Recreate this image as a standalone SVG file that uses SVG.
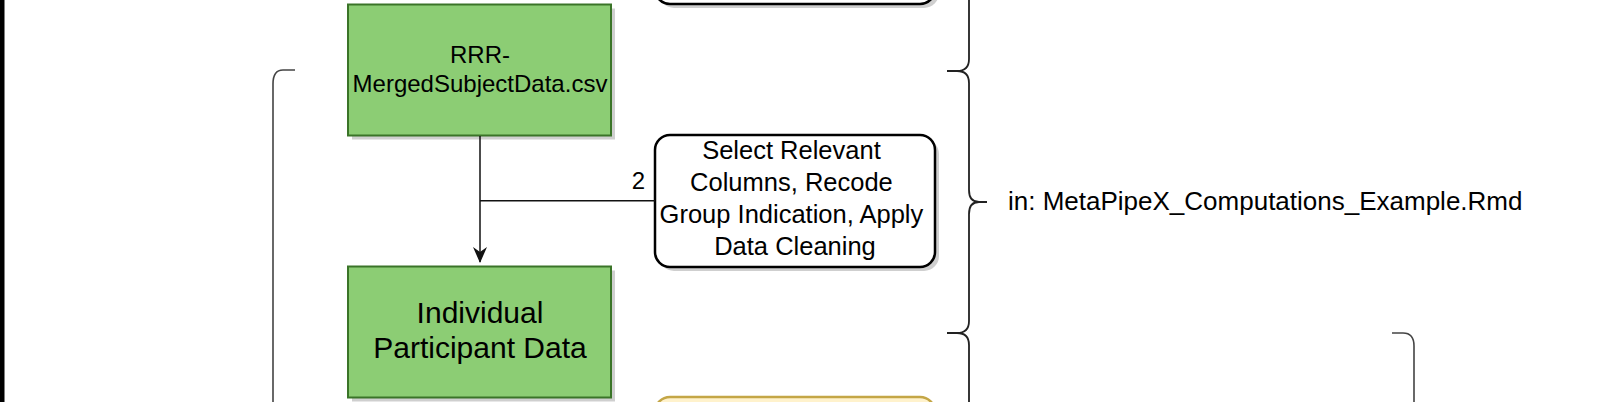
<svg xmlns="http://www.w3.org/2000/svg" width="1602" height="402" viewBox="0 0 1602 402">
<style>
  text { font-family: "Liberation Sans", Arial, Helvetica, sans-serif; fill: #000; }
  .green { fill: #8ccd74; stroke: #3a7428; stroke-width: 2; }
  .proc { fill: #ffffff; stroke: #000; stroke-width: 2.5; }
  .yellow { fill: #fff2cc; stroke: #c4a646; stroke-width: 2.5; }
  .shadow { fill: #888; opacity: 0.4; }
  .edge { fill: none; stroke: #111; stroke-width: 1.5; }
  .brace { fill: none; stroke: #222; stroke-width: 1.8; }
  .bracket { fill: none; stroke: #444; stroke-width: 1.6; }
</style>
<defs>
  <marker id="arrow" markerWidth="16" markerHeight="14" refX="15" refY="7" orient="auto" markerUnits="userSpaceOnUse" viewBox="0 0 16 14">
    <path d="M0,0 L16,7 L0,14 L5,7 Z" fill="#111"/>
  </marker>
</defs>
<rect x="0" y="0" width="4.5" height="402" fill="#000"/>

<g id="brackets">
  <path class="bracket" d="M295,70 H283 Q273,70 273,84 V402"/>
  <path class="bracket" d="M1392,333 H1403 Q1414,333 1414,346 V402"/>
</g>

<g id="braces">
  <path class="brace" d="M969,-5 V59 Q969,71 957,71 H947"/>
  <path class="brace" d="M947,71 H957 Q969,71 969,83 V190 Q969,202 979,202 H987 M979,202 Q969,202 969,214 V321 Q969,333 957,333 H947"/>
  <path class="brace" d="M947,333 H957 Q969,333 969,345 V405"/>
</g>

<g id="top-process">
  <rect class="shadow" x="659" y="-100" width="280" height="108" rx="15"/>
  <rect class="proc" x="655" y="-104" width="280" height="108" rx="15"/>
</g>

<g id="merged-data">
  <rect class="shadow" x="352" y="8.5" width="263" height="131"/>
  <rect class="green" x="348" y="4.5" width="263" height="131"/>
  <text x="480" y="63" font-size="24" text-anchor="middle">RRR-</text>
  <text x="480" y="92" font-size="24" text-anchor="middle">MergedSubjectData.csv</text>
</g>

<g id="select-columns">
  <rect class="shadow" x="659" y="139" width="280" height="132" rx="15"/>
  <rect class="proc" x="655" y="135" width="280" height="132" rx="15"/>
  <text font-size="25.5" text-anchor="middle">
    <tspan x="795" y="159">Select Relevant</tspan>
    <tspan x="795" y="191">Columns, Recode</tspan>
    <tspan x="795" y="223">Group Indication, Apply</tspan>
    <tspan x="795" y="255">Data Cleaning</tspan>
  </text>
</g>

<g id="individual-data">
  <rect class="shadow" x="352" y="270.5" width="263" height="131"/>
  <rect class="green" x="348" y="266.5" width="263" height="131"/>
  <text x="480" y="323" font-size="30" text-anchor="middle">Individual</text>
  <text x="480" y="358" font-size="30" text-anchor="middle">Participant Data</text>
</g>

<g id="yellow-process">
  <rect class="shadow" x="659" y="401" width="280" height="100" rx="15"/>
  <rect class="yellow" x="655" y="397" width="280" height="100" rx="15"/>
</g>

<g id="connectors">
  <path class="edge" d="M480,136 V262" marker-end="url(#arrow)"/>
  <path class="edge" d="M480,200.7 H655"/>
  <text x="638.5" y="189" font-size="24" text-anchor="middle">2</text>
</g>

<g id="annotation">
  <text x="1008" y="210" font-size="26">in: MetaPipeX_Computations_Example.Rmd</text>
</g>
</svg>
